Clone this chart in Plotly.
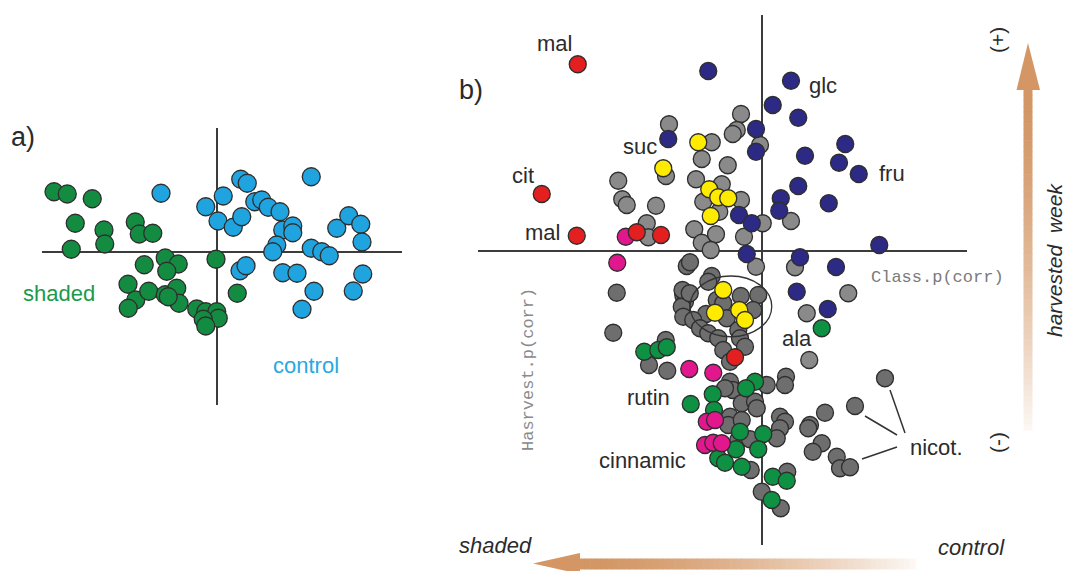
import plotly.graph_objects as go

W, H = 1066, 571

# ---------------- Panel a: score plot (t1, t2) ----------------
a_shaded_x = [-6.52, -5.99, -4.99, -5.67, -4.52, -4.49, -5.83, -3.27, -3.11, -2.57,
              -2.91, -2.07, -1.55, -2.01, -0.04, -3.56, -3.25, -3.55, -2.73, -2.07,
              -1.61, -1.52, -0.81, -0.45, -0.01, 0.05, -0.55, -0.45, 0.81, -1.95]
a_shaded_y = [2.41, 2.32, 2.13, 1.15, 0.88, 0.32, 0.11, 1.20, 0.72, 0.75,
              -0.51, -0.24, -0.48, -0.77, -0.29, -1.29, -1.92, -2.25, -1.57, -1.71,
              -1.45, -2.05, -2.28, -2.39, -2.39, -2.65, -2.69, -2.96, -1.65, -1.79]
a_control_x = [-2.24, -0.45, 0.25, 0.95, 1.21, 0.04, 0.65, 0.99, 1.51, 1.79,
               2.05, 2.52, 2.63, 3.03, 3.03, 2.39, 2.23, 3.77, 4.79, 5.27,
               5.75, 5.80, 3.77, 4.19, 4.49, 0.92, 1.16, 2.63, 3.20, 5.83,
               3.88, 5.45, 3.40]
a_control_y = [2.35, 1.81, 2.24, 2.91, 2.75, 1.24, 0.99, 1.41, 2.01, 2.08,
               1.79, 1.61, 0.88, 1.04, 0.77, 0.28, 0.01, 3.01, 0.95, 1.45,
               1.11, 0.40, 0.15, 0.01, -0.15, -0.75, -0.55, -0.83, -0.85, -0.88,
               -1.57, -1.56, -2.29]

# ---------------- Panel b: loadings p(corr) ----------------
b_grey_light_x = [-0.372, -0.084, -0.101, -0.117, -0.008, -0.201, -0.384, -0.241, -0.137, -0.575,
                  -0.559, -0.541, -0.424, -0.461, -0.455, -0.264, -0.161, -0.235, -0.084, -0.171,
                  0.003, -0.271, -0.241, -0.184, -0.205, -0.072, 0.116, -0.024, 0.132, 0.179,
                  0.189, 0.345]
b_grey_light_y = [0.507, 0.548, 0.484, 0.468, 0.424, 0.435, 0.300, 0.368, 0.343, 0.281,
                  0.207, 0.184, 0.181, 0.111, 0.055, 0.287, 0.267, 0.197, 0.204, 0.157,
                  0.111, 0.087, 0.033, 0.067, 0.004, 0.057, 0.120, -0.063, -0.065, -0.249,
                  -0.436, -0.169]
b_grey_dark_x = [-0.301, -0.288, -0.201, -0.581, -0.595, -0.215, -0.085, -0.015, -0.181, -0.155,
                 -0.141, -0.224, -0.035, -0.315, -0.308, -0.321, -0.315, -0.275, -0.248, -0.215,
                 -0.175, -0.095, -0.088, -0.068, -0.155, -0.128, -0.385, -0.452, -0.379, -0.128,
                 -0.117, -0.148, 0.019, 0.096, 0.092, -0.081, -0.028, -0.021, -0.128, -0.135,
                 -0.081, 0.072, 0.092, 0.072, 0.059, -0.095, -0.048, -0.045, 0.101, -0.001,
                 0.075, 0.192, 0.185, 0.252, 0.372, 0.239, 0.203, 0.299, 0.312, 0.352,
                 0.492, -0.318, -0.289]
b_grey_dark_y = [-0.060, -0.045, -0.100, -0.167, -0.327, -0.123, -0.180, -0.176, -0.196, -0.209,
                 -0.269, -0.252, -0.236, -0.176, -0.203, -0.223, -0.263, -0.276, -0.309, -0.329,
                 -0.349, -0.316, -0.349, -0.383, -0.396, -0.443, -0.356, -0.456, -0.479, -0.523,
                 -0.556, -0.549, -0.536, -0.503, -0.536, -0.609, -0.603, -0.629, -0.663, -0.696,
                 -0.676, -0.663, -0.683, -0.709, -0.749, -0.756, -0.753, -0.876, -0.883, -0.963,
                 -1.029, -0.696, -0.709, -0.647, -0.620, -0.769, -0.803, -0.823, -0.869, -0.865,
                 -0.509, -0.156, -0.169]
b_red_x = [-0.737, -0.881, -0.741, -0.501, -0.404, -0.108]
b_red_y = [0.747, 0.228, 0.061, 0.075, 0.064, -0.425]
b_magenta_x = [-0.545, -0.579, -0.291, -0.195, -0.221, -0.188, -0.228, -0.195, -0.161]
b_magenta_y = [0.057, -0.047, -0.472, -0.487, -0.683, -0.676, -0.776, -0.767, -0.769]
b_yellow_x = [-0.255, -0.395, -0.211, -0.175, -0.135, -0.205, -0.155, -0.188, -0.091, -0.068]
b_yellow_y = [0.435, 0.331, 0.247, 0.215, 0.211, 0.140, -0.156, -0.247, -0.236, -0.276]
b_navy_x = [-0.215, 0.116, 0.043, 0.145, -0.024, -0.024, 0.172, 0.333, 0.308, 0.387,
            0.145, 0.075, 0.069, 0.267, -0.092, -0.041, -0.061, 0.152, 0.296, 0.469,
            0.139, 0.263, -0.375]
b_navy_y = [0.720, 0.681, 0.584, 0.533, 0.488, 0.397, 0.381, 0.428, 0.353, 0.308,
            0.260, 0.211, 0.161, 0.191, 0.144, 0.111, -0.012, -0.025, -0.064, 0.024,
            -0.163, -0.232, 0.448]
b_green_x = [0.239, -0.471, -0.415, -0.381, -0.028, -0.064, -0.197, -0.285, -0.192, -0.088,
             0.005, -0.104, -0.015, -0.175, -0.148, -0.081, 0.043, 0.099, 0.039]
b_green_y = [-0.309, -0.403, -0.396, -0.385, -0.523, -0.549, -0.573, -0.612, -0.636, -0.723,
             -0.732, -0.793, -0.793, -0.829, -0.847, -0.863, -0.903, -0.919, -0.996]

# compound labels (text, anchor x px, y px)
b_labels = [("mal", 535, 44), ("cit", 510, 175), ("mal", 523, 233), ("suc", 621, 147),
            ("glc", 807, 85), ("fru", 877, 173), ("ala", 780, 338), ("rutin", 625, 397),
            ("cinnamic", 597, 460), ("nicot.", 908, 447)]

EDGE = "#2e2e2e"
FONT = "Liberation Sans, Arial, sans-serif"
MONO = "Liberation Mono, Courier New, monospace"
TXT = "#2b2b2b"


def px(x):
    return x / W


def py(y):
    return 1 - y / H


fig = go.Figure()


def add(xs, ys, color, xa, ya, size):
    fig.add_trace(go.Scatter(x=xs, y=ys, mode="markers", xaxis=xa, yaxis=ya,
                             cliponaxis=False, hoverinfo="skip",
                             marker=dict(size=size, color=color,
                                         line=dict(color=EDGE, width=1.3))))


add(a_shaded_x, a_shaded_y, "#138c42", "x", "y", 18)
add(a_control_x, a_control_y, "#1fa4e0", "x", "y", 18)

add(b_grey_dark_x, b_grey_dark_y, "#6e6e6e", "x2", "y2", 17)
add(b_grey_light_x, b_grey_light_y, "#8a8a8a", "x2", "y2", 17)
add(b_navy_x, b_navy_y, "#2c2a85", "x2", "y2", 17)
add(b_green_x, b_green_y, "#0f9144", "x2", "y2", 17)
add(b_magenta_x, b_magenta_y, "#e2178d", "x2", "y2", 17)
add(b_yellow_x, b_yellow_y, "#ffeb00", "x2", "y2", 17)
add(b_red_x, b_red_y, "#e3201f", "x2", "y2", 17)

axis_common = dict(showgrid=False, showticklabels=False, ticks="", showline=False,
                   zeroline=True, zerolinecolor="#3c3c3c", zerolinewidth=1.5, fixedrange=True)

shapes = []
# ellipse around cluster
shapes.append(dict(type="circle", xref="x2", yref="y2", x0=-0.288, x1=0.039, y0=-0.343, y1=-0.100,
                   line=dict(color="#333333", width=1.3), layer="above"))
# nicot. leader lines
for (x0, y0, x1, y1) in [(0.512, -0.556, 0.572, -0.728), (0.412, -0.660, 0.540, -0.736),
                         (0.400, -0.832, 0.540, -0.784)]:
    shapes.append(dict(type="line", xref="x2", yref="y2", x0=x0, y0=y0, x1=x1, y1=y1,
                       line=dict(color="#333333", width=1.5)))

TAN = (211, 150, 100)


def blend(t):
    # t: 0 full tan, 1 nearly white
    r = int(TAN[0] + (252 - TAN[0]) * t)
    g = int(TAN[1] + (247 - TAN[1]) * t)
    b = int(TAN[2] + (243 - TAN[2]) * t)
    return f"rgb({r},{g},{b})"


# vertical gradient arrow (harvest week)
n = 60
top, bot = 89, 430
for i in range(n):
    y0 = top + (bot - top) * i / n
    y1 = top + (bot - top) * (i + 1) / n + 0.6
    t = (i / (n - 1)) ** 1.5
    shapes.append(dict(type="rect", xref="paper", yref="paper", x0=px(1023.5), x1=px(1032.5),
                       y0=py(y1), y1=py(y0), fillcolor=blend(t), line=dict(width=0)))
shapes.append(dict(type="path", xref="paper", yref="paper",
                   path=f"M {px(1028)},{py(43)} L {px(1040)},{py(90)} L {px(1016.5)},{py(90)} Z",
                   fillcolor=blend(0), line=dict(width=0)))

# horizontal gradient arrow (control -> shaded)
left, right = 579, 915
for i in range(n):
    x0 = left + (right - left) * i / n
    x1 = left + (right - left) * (i + 1) / n + 0.6
    t = (i / (n - 1)) ** 1.5
    shapes.append(dict(type="rect", xref="paper", yref="paper", x0=px(x0), x1=px(x1),
                       y0=py(569.5), y1=py(558.5), fillcolor=blend(t), line=dict(width=0)))
shapes.append(dict(type="path", xref="paper", yref="paper",
                   path=f"M {px(533)},{py(563.5)} L {px(580)},{py(553)} L {px(580)},{py(574)} Z",
                   fillcolor=blend(0), line=dict(width=0)))

ann = []


def text(t, x, y, size=22, color=TXT, family=FONT, anchor="left", angle=0, italic=False):
    s = f"<i>{t}</i>" if italic else t
    ann.append(dict(text=s, x=px(x), y=py(y), xref="paper", yref="paper", showarrow=False,
                    xanchor=anchor, yanchor="middle", textangle=angle,
                    font=dict(size=size, color=color, family=family)))


text("a)", 9, 137, size=27)
text("shaded", 21, 293, color="#1b9a4b")
text("control", 271, 365, color="#27a9e1")
text("b)", 457, 90, size=27)
for (lab, lx, ly) in b_labels:
    text(lab, lx, ly)
text("Class.p(corr)", 869, 277, size=17, color="#7a7a7a", family=MONO)
text("Hasrvest.p(corr)", 528, 370, size=17, color="#8a8a8a", family=MONO, anchor="center", angle=-90)
text("harvested  week", 1055, 260, size=21, anchor="center", angle=-90, italic=True)
text("(+)", 997, 40, size=21, anchor="center", angle=-90)
text("(-)", 997, 443, size=21, anchor="center", angle=-90)
text("shaded", 457, 545, italic=True)
text("control", 936, 547, italic=True)

fig.update_layout(
    width=W, height=H, margin=dict(l=0, r=0, t=0, b=0, pad=0),
    paper_bgcolor="white", plot_bgcolor="rgba(0,0,0,0)", showlegend=False,
    xaxis=dict(domain=[px(42), px(402)], range=[-7.0, 7.4], anchor="y", **axis_common),
    yaxis=dict(domain=[py(405), py(128)], range=[-6.12, 4.96], anchor="x", **axis_common),
    xaxis2=dict(domain=[px(478), px(967)], range=[-1.136, 0.82], anchor="y2", **axis_common),
    yaxis2=dict(domain=[py(545), py(15)], range=[-1.176, 0.944], anchor="x2", **axis_common),
    shapes=shapes, annotations=ann,
)

fig.write_html("out.html", config={"displayModeBar": False})
